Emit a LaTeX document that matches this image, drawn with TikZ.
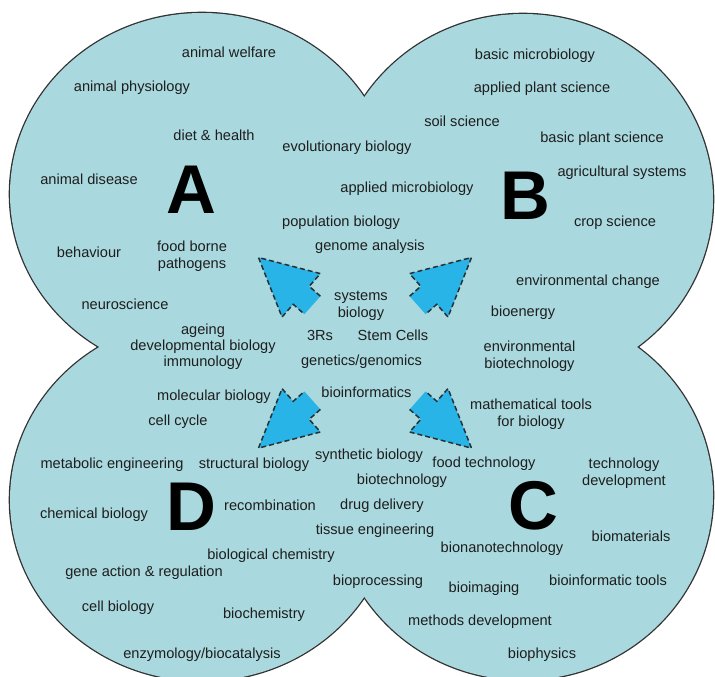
\documentclass[tikz,border=0pt]{standalone}
\usepackage{fontspec}
\setmainfont{Liberation Sans}
\definecolor{lobefill}{RGB}{169,216,222}
\definecolor{lobeline}{RGB}{50,50,50}
\definecolor{arrowcyan}{RGB}{40,180,230}
\definecolor{dashc}{RGB}{40,48,52}
\definecolor{txtc}{RGB}{30,30,30}
\newcommand{\petalarrow}{%
  \fill[arrowbody] (320.4,296.2) -- (309.2,286.3) -- (320.4,273.6) -- (258.5,257.5) -- (282.0,317.0) -- (293.2,304.3) -- (304.4,314.2) -- cycle;
  \draw[arrowedge] (320.4,296.2) -- (309.2,286.3) -- (320.4,273.6) -- (258.5,257.5) -- (282.0,317.0) -- (293.2,304.3) -- (304.4,314.2);
}
\tikzset{
  lbl/.style={font=\fontsize{14.6}{17}\selectfont, text=txtc, inner sep=0pt, text height=10.5pt, text depth=3pt},
  mlbl/.style={font=\fontsize{14.6}{17}\selectfont, text=txtc, inner sep=0pt, align=center, anchor=north},
  bigl/.style={font=\fontsize{69}{69}\selectfont\bfseries, text=black, inner sep=0pt},
  lobeedge/.style={draw=lobeline, line width=2.6pt},
  lobebody/.style={fill=lobefill},
  arrowbody/.style={fill=arrowcyan},
  arrowedge/.style={draw=dashc, line width=1.5pt, dash pattern=on 5pt off 3pt}
}
\begin{document}
\begin{tikzpicture}[x=1pt,y=-1pt]
\useasboundingbox (0,0) rectangle (715,677);
\fill[white] (0,0) rectangle (715,677);
\clip (0,0) rectangle (715,677);
% lobes: outline first, then fill to hide inner arcs
\path[lobeedge] (202,194) ellipse [x radius=192, y radius=181];
\path[lobeedge] (523,199) ellipse [x radius=190, y radius=185];
\path[lobeedge] (523,495) ellipse [x radius=190, y radius=185];
\path[lobeedge] (202,500) ellipse [x radius=192, y radius=181];
\path[lobebody] (202,194) ellipse [x radius=192, y radius=181];
\path[lobebody] (523,199) ellipse [x radius=190, y radius=185];
\path[lobebody] (523,495) ellipse [x radius=190, y radius=185];
\path[lobebody] (202,500) ellipse [x radius=192, y radius=181];
% centre between the four notches
\path[lobebody] (364,99) -- (635,347) -- (368,597) -- (101,347) -- cycle;
% arrows
\begin{scope}\petalarrow\end{scope}
\begin{scope}[shift={(730,0)}, xscale=-1]\petalarrow\end{scope}
\begin{scope}[shift={(0,705.6)}, yscale=-1]\petalarrow\end{scope}
\begin{scope}[shift={(730,705.6)}, xscale=-1, yscale=-1]\petalarrow\end{scope}
% big letters
\node[bigl] (A) at (191,190) {A};
\node[bigl] (B) at (525,196) {B};
\node[bigl] (C) at (533,506) {C};
\node[bigl] (D) at (191,507) {D};
% A
\node[lbl] (welfare) at (229,54) {animal welfare};
\node[lbl] (physiology) at (132,87.5) {animal physiology};
\node[lbl] (diet) at (214,137) {diet \& health};
\node[lbl] (evolution) at (347,148) {evolutionary biology};
\node[lbl] (disease) at (89,181) {animal disease};
\node[lbl] (appmicro) at (407,189) {applied microbiology};
\node[lbl] (popbio) at (341,222.5) {population biology};
\node[lbl] (genome) at (370,247) {genome analysis};
\node[lbl] (behaviour) at (89,254) {behaviour};
\node[mlbl] (foodborne) at (192,240.25) {food borne\\pathogens};
\node[lbl] (neuro) at (125,305.5) {neuroscience};
% B
\node[lbl] (basicmicro) at (535,56) {basic microbiology};
\node[lbl] (appplant) at (542,89) {applied plant science};
\node[lbl] (soil) at (462,123) {soil science};
\node[lbl] (basicplant) at (602,139) {basic plant science};
\node[lbl] (agri) at (622,173) {agricultural systems};
\node[lbl] (crop) at (615,223) {crop science};
\node[lbl] (envchange) at (588,282) {environmental change};
\node[lbl] (bioenergy) at (523,313) {bioenergy};
% centre
\node[mlbl] (systems) at (361,291.25) {systems\\biology};
\node[lbl] (threeRs) at (320,337) {3Rs};
\node[lbl] (stem) at (393,337) {Stem Cells};
\node[lbl] (genetics) at (361.5,361.5) {genetics/genomics};
\node[mlbl, font=\fontsize{14.6}{16}\selectfont] (ageing) at (203,323.25) {ageing\\developmental biology\\immunology};
\node[mlbl] (envbiotech) at (529.5,340.25) {environmental\\biotechnology};
\node[lbl] (bioinfo) at (366.5,394) {bioinformatics};
\node[lbl] (molbio) at (214,397) {molecular biology};
\node[mlbl] (mathtools) at (531,398.25) {mathematical tools\\for biology};
\node[lbl] (cellcycle) at (178,422) {cell cycle};
% D and C
\node[lbl] (metabolic) at (112,465) {metabolic engineering};
\node[lbl] (structural) at (254,465) {structural biology};
\node[lbl] (synthetic) at (369,456) {synthetic biology};
\node[lbl] (foodtech) at (484,464) {food technology};
\node[mlbl] (techdev) at (624,457.25) {technology\\development};
\node[lbl] (biotech) at (402,481) {biotechnology};
\node[lbl] (recomb) at (270,506.5) {recombination};
\node[lbl] (drug) at (382,506) {drug delivery};
\node[lbl] (chembio) at (94,515) {chemical biology};
\node[lbl] (tissue) at (375,531) {tissue engineering};
\node[lbl] (biomat) at (631,538) {biomaterials};
\node[lbl] (bionano) at (502,549) {bionanotechnology};
\node[lbl] (biochemistry2) at (271,556) {biological chemistry};
\node[lbl] (geneaction) at (144,573) {gene action \& regulation};
\node[lbl] (bioproc) at (378,581.5) {bioprocessing};
\node[lbl] (bioimaging) at (484,589) {bioimaging};
\node[lbl] (bioinftools) at (608,581.5) {bioinformatic tools};
\node[lbl] (cellbio) at (118,608) {cell biology};
\node[lbl] (biochem) at (264,614.5) {biochemistry};
\node[lbl] (methods) at (480,622) {methods development};
\node[lbl] (enzymology) at (202,654.5) {enzymology/biocatalysis};
\node[lbl] (biophysics) at (542,654.5) {biophysics};
\end{tikzpicture}
\end{document}
